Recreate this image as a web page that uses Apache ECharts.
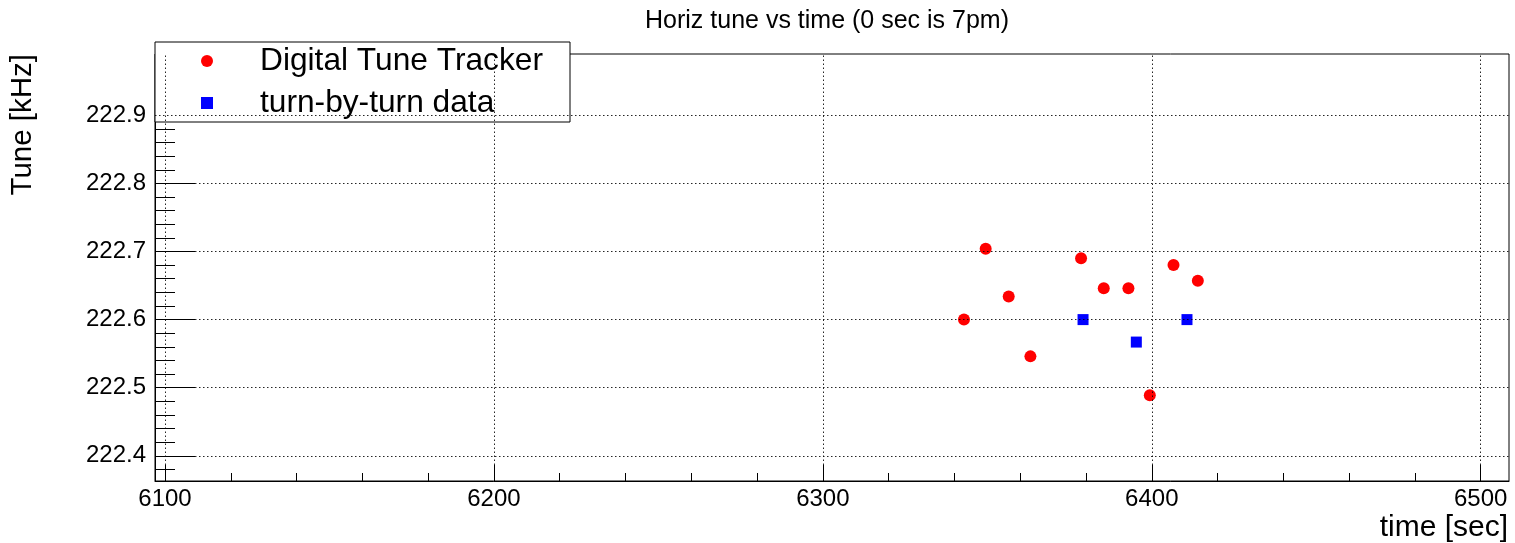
<!DOCTYPE html>
<html>
<head>
<meta charset="utf-8">
<script src="https://cdn.jsdelivr.net/npm/echarts@6/dist/echarts.min.js"></script>
<style>
  html, body { margin: 0; padding: 0; background: #fff; }
  #chart { width: 1515px; height: 543px; }
</style>
</head>
<body>
<div id="chart"></div>
<script>
// Horizontal tune measurements
const trackerTime = [6342.9, 6349.5, 6356.5, 6363.1, 6378.5, 6385.4, 6392.9, 6399.4, 6406.6, 6414.0];
const trackerTune = [222.600, 222.704, 222.634, 222.546, 222.690, 222.646, 222.646, 222.489, 222.680, 222.657];
const tbtTime = [6379.1, 6395.3, 6410.7];
const tbtTune = [222.600, 222.567, 222.600];

// Axis ticks
const xMajorTicks = [6100, 6200, 6300, 6400, 6500];
const xMinorTicks = [6120, 6140, 6160, 6180, 6220, 6240, 6260, 6280,
                     6320, 6340, 6360, 6380, 6420, 6440, 6460, 6480];
const yMajorTicks = [222.4, 222.5, 222.6, 222.7, 222.8, 222.9];
const yMinorTicks = [222.38, 222.42, 222.44, 222.46, 222.48, 222.52, 222.54, 222.56, 222.58,
                     222.62, 222.64, 222.66, 222.68, 222.72, 222.74, 222.76, 222.78,
                     222.82, 222.84, 222.86, 222.88, 222.92, 222.94, 222.96, 222.98];

const FONT = "'Liberation Sans', Arial, Helvetica, sans-serif";
const X_MIN = 6096.96, X_MAX = 6508.6;
const Y_MIN = 222.363, Y_MAX = 222.99;

const pairs = (xs, ys) => xs.map((x, i) => [x, ys[i]]);

const chart = echarts.init(document.getElementById('chart'), null, { renderer: 'canvas' });

const baseX = {
  type: 'value', min: X_MIN, max: X_MAX, position: 'bottom',
  splitLine: { show: false }, minorTick: { show: false }
};
const baseY = {
  type: 'value', min: Y_MIN, max: Y_MAX, position: 'left',
  splitLine: { show: false }, minorTick: { show: false }
};

chart.setOption({
  animation: false,
  backgroundColor: '#fff',
  title: {
    text: 'Horiz tune vs time (0 sec is 7pm)',
    left: 645,
    top: 9,
    padding: 0,
    textStyle: { fontFamily: FONT, fontSize: 25, fontWeight: 'normal', color: '#000' }
  },
  legend: {
    data: ['Digital Tune Tracker', 'turn-by-turn data'],
    orient: 'vertical',
    left: 155, top: 42,
    padding: [3, 27, 3, 46],
    itemWidth: 12, itemHeight: 12, itemGap: 10,
    backgroundColor: '#fff',
    borderColor: '#000', borderWidth: 1, borderRadius: 0,
    selectedMode: false,
    textStyle: { fontFamily: FONT, fontSize: 31.7, lineHeight: 31, width: 283, padding: [0, 0, 0, 42], color: '#000' }
  },
  grid: {
    left: 155, right: 6, top: 54, bottom: 60,
    show: true, borderColor: '#000', borderWidth: 1, backgroundColor: 'transparent'
  },
  xAxis: [
    Object.assign({}, baseX, {
      name: 'time [sec]',
      nameLocation: 'end',
      nameGap: 0,
      nameMoveOverlap: false,
      nameTextStyle: { fontFamily: FONT, fontSize: 30, color: '#000', align: 'right', verticalAlign: 'top', padding: [32, 1, 0, 0] },
      axisLine: { show: true, lineStyle: { color: '#000', width: 1 } },
      axisTick: { show: true, inside: true, length: 16, customValues: xMajorTicks, lineStyle: { color: '#000', width: 1 } },
      axisLabel: { show: true, customValues: xMajorTicks, margin: 6, fontFamily: FONT, fontSize: 24, color: '#000',
                   formatter: v => String(Math.round(v)) }
    }),
    Object.assign({}, baseX, {
      axisLine: { show: false },
      axisTick: { show: true, inside: true, length: 8, customValues: xMinorTicks, lineStyle: { color: '#000', width: 1 } },
      axisLabel: { show: false }
    })
  ],
  yAxis: [
    Object.assign({}, baseY, {
      name: 'Tune [kHz]',
      nameLocation: 'end',
      nameGap: 0,
      nameRotate: 90,
      nameMoveOverlap: false,
      nameTextStyle: { fontFamily: FONT, fontSize: 29.5, color: '#000', align: 'right', verticalAlign: 'bottom', padding: [0, 0, 117, 0] },
      axisLine: { show: true, lineStyle: { color: '#000', width: 1 } },
      axisTick: { show: true, inside: true, length: 40, customValues: yMajorTicks, lineStyle: { color: '#000', width: 1 } },
      axisLabel: { show: true, customValues: yMajorTicks, margin: 9, fontFamily: FONT, fontSize: 24, color: '#000',
                   formatter: v => v.toFixed(1) }
    }),
    Object.assign({}, baseY, {
      axisLine: { show: false },
      axisTick: { show: true, inside: true, length: 20, customValues: yMinorTicks, lineStyle: { color: '#000', width: 1 } },
      axisLabel: { show: false }
    })
  ],
  series: [
    {
      // dotted grid at the major ticks
      name: 'grid',
      type: 'scatter',
      xAxisIndex: 0, yAxisIndex: 0,
      z: 1,
      data: [],
      silent: true,
      markLine: {
        silent: true,
        symbol: ['none', 'none'],
        label: { show: false },
        emphasis: { disabled: true },
        lineStyle: { color: '#000', width: 1, type: [1.5, 2.5], opacity: 0.85 },
        data: xMajorTicks.map(v => ({ xAxis: v })).concat(yMajorTicks.map(v => ({ yAxis: v })))
      }
    },
    {
      name: 'Digital Tune Tracker',
      type: 'scatter',
      xAxisIndex: 0, yAxisIndex: 0,
      z: 3,
      symbol: 'circle',
      symbolSize: 12,
      itemStyle: { color: '#ff0000', opacity: 1 },
      data: pairs(trackerTime, trackerTune)
    },
    {
      name: 'turn-by-turn data',
      type: 'scatter',
      xAxisIndex: 0, yAxisIndex: 0,
      z: 3,
      symbol: 'rect',
      symbolSize: 11,
      itemStyle: { color: '#0000ff', opacity: 1 },
      data: pairs(tbtTime, tbtTune)
    }
  ]
});
</script>
</body>
</html>
